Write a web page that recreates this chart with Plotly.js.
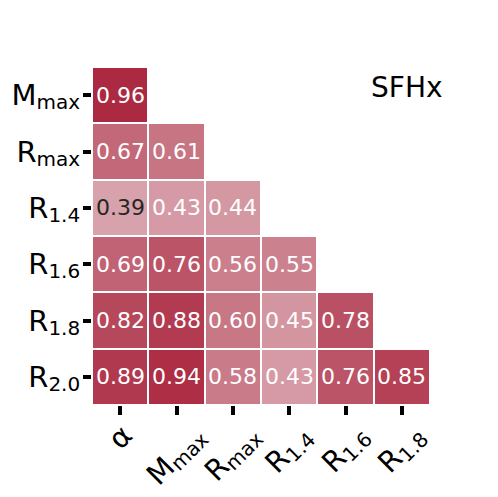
<!DOCTYPE html>
<html>
<head>
<meta charset="utf-8">
<script src="https://cdn.plot.ly/plotly-3.0.1.min.js"></script>
<style>body{margin:0;background:#fff}#chart{width:498px;height:497px}</style>
</head>
<body>
<div id="chart"></div>
<script>
// columns and rows of the lower-triangular correlation matrix
const sub = s => '<span style="font-size:20px;baseline-shift:-4px">' + s + '</span>';
const colKeys = ['alpha', 'Mmax', 'Rmax', 'R14', 'R16', 'R18'];
const colLabels = ['α', 'M' + sub('max'), 'R' + sub('max'), 'R' + sub('1.4'), 'R' + sub('1.6'), 'R' + sub('1.8')];
const rowKeys = ['Mmax', 'Rmax', 'R14', 'R16', 'R18', 'R20'];
const rowLabels = ['M' + sub('max'), 'R' + sub('max'), 'R' + sub('1.4'), 'R' + sub('1.6'), 'R' + sub('1.8'), 'R' + sub('2.0')];

const rowMmax = [0.96];
const rowRmax = [0.67, 0.61];
const rowR14 = [0.39, 0.43, 0.44];
const rowR16 = [0.69, 0.76, 0.56, 0.55];
const rowR18 = [0.82, 0.88, 0.60, 0.45, 0.78];
const rowR20 = [0.89, 0.94, 0.58, 0.43, 0.76, 0.85];

const rows = [rowMmax, rowRmax, rowR14, rowR16, rowR18, rowR20];
const z = rows.map(r => colKeys.map((c, j) => (j < r.length ? r[j] : null)));

const annotations = [];
rows.forEach((r, i) => {
  r.forEach((v, j) => {
    annotations.push({
      x: colKeys[j], y: rowKeys[i], xref: 'x', yref: 'y',
      text: v.toFixed(2), showarrow: false,
      font: { family: 'DejaVu Sans', size: 22, color: v < 0.4 ? '#262626' : '#ffffff' }
    });
  });
});
// rotated x labels, centred under each tick
colKeys.forEach((c, j) => {
  annotations.push({
    x: c, xref: 'x', yref: 'paper', y: -0.032, xanchor: 'center', yanchor: 'top',
    text: colLabels[j], textangle: -45, showarrow: false,
    font: { family: 'DejaVu Sans', size: 29, color: '#000' }
  });
});
annotations.push({
  xref: 'paper', yref: 'paper', x: 1.045, y: 0.94, xanchor: 'right', yanchor: 'middle',
  text: 'SFHx', showarrow: false, font: { family: 'DejaVu Sans', size: 28, color: '#000' }
});

const trace = {
  type: 'heatmap', x: colKeys, y: rowKeys, z: z,
  zmin: 0, zmax: 1,
  colorscale: [[0, 'rgb(242,242,242)'], [0.5, 'rgb(208,140,152)'], [1, 'rgb(168,33,58)']],
  showscale: false, xgap: 2, ygap: 2, hoverongaps: false
};

const layout = {
  width: 498, height: 497,
  margin: { l: 92, r: 68, t: 67, b: 92, autoexpand: false },
  paper_bgcolor: '#fff', plot_bgcolor: '#fff',
  font: { family: 'DejaVu Sans', color: '#000' },
  xaxis: {
    tickmode: 'array', tickvals: colKeys, showticklabels: false,
    range: [-0.5, colKeys.length - 0.5],
    ticks: 'outside', ticklen: 9, tickwidth: 4, tickcolor: '#000',
    showgrid: false, zeroline: false, showline: false
  },
  yaxis: {
    tickmode: 'array', tickvals: rowKeys, ticktext: rowLabels,
    range: [rowKeys.length - 0.5, -0.5],
    ticks: 'outside', ticklen: 8, tickwidth: 4, tickcolor: '#000', ticklabelstandoff: -3,
    tickfont: { size: 29 }, showgrid: false, zeroline: false, showline: false
  },
  annotations: annotations
};

Plotly.newPlot('chart', [trace], layout, { displayModeBar: false });
</script>
</body>
</html>
